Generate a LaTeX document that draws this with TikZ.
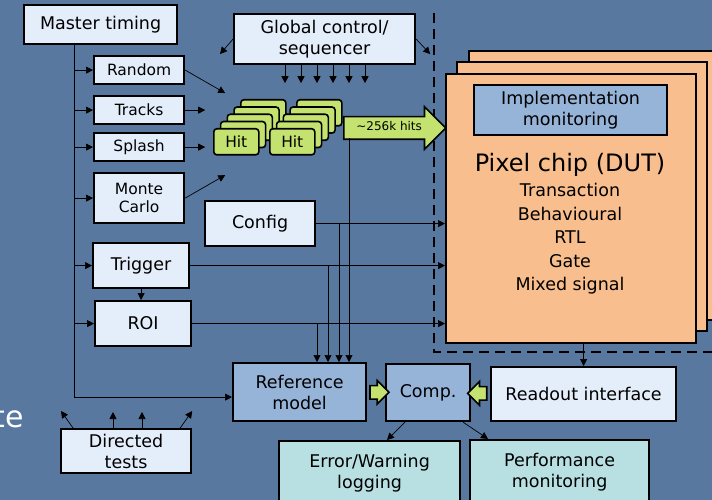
\documentclass[tikz,border=0pt]{standalone}
\usepackage{fontspec}
\setmainfont{DejaVu Sans}
\usepackage{xcolor}
\usetikzlibrary{arrows.meta,positioning,shapes.arrows,calc}

\definecolor{slideblue}{HTML}{5878A0}
\definecolor{paleblue}{HTML}{E4EEFB}
\definecolor{midblue}{HTML}{96B3D8}
\definecolor{paleteal}{HTML}{B8DFE1}
\definecolor{peach}{HTML}{F9BE8D}
\definecolor{hitgreen}{HTML}{C3E26F}

\begin{document}
\begin{tikzpicture}[
  x=1pt,y=-1pt,
  font=\fontsize{17.5}{21}\selectfont,
  box/.style={rectangle,draw,line width=2.2pt,fill=paleblue,align=center,
              anchor=north west,inner sep=1pt},
  sbox/.style={box,font=\fontsize{15.5}{18.5}\selectfont,minimum width=90pt,minimum height=28pt},
  mbox/.style={box,fill=midblue},
  tbox/.style={box,fill=paleteal},
  hitbox/.style={rectangle,draw,line width=1.6pt,rounded corners=3pt,fill=hitgreen,
              minimum width=45pt,minimum height=26pt,anchor=north west,inner sep=0pt,
              font=\fontsize{15.5}{18}\selectfont},
  fat/.style={single arrow,draw,line width=1.6pt,fill=hitgreen,inner xsep=0pt,minimum width=0pt},
  arr/.style={-{Triangle[length=7pt,width=7pt]},line width=0.7pt}
]
\fill[slideblue] (0,0) rectangle (712,500);
\useasboundingbox (0,0) rectangle (712,500);

% slide text behind the diagram
\node[text=white,font=\fontsize{30}{34}\selectfont,anchor=base east,inner sep=0pt] (slidetxt) at (24,427) {te};

% DUT boundary
\draw[line width=2.8pt,dash pattern=on 10pt off 6pt] (434,13) |- (712,352);

% pixel chip stack
\foreach \d in {2,1}
  \draw[line width=2.2pt,fill=peach] (445+12*\d,73-11*\d) rectangle ++(250,269);
\node[box,fill=peach,minimum width=250pt,minimum height=269pt,inner sep=0pt] (chip) at (445,73) {};
\node[mbox,minimum width=193pt,minimum height=50pt] (impl) at (473,84) {Implementation\\monitoring};
\node[font=\fontsize{24}{28}\selectfont] (dut) at (570,165) {Pixel chip (DUT)};
\node[align=center,font=\fontsize{17.5}{23.5}\selectfont] (levels) at (570,239)
  {Transaction\\Behavioural\\RTL\\Gate\\Mixed signal};

% stimulus side
\node[box,minimum width=153pt,minimum height=39pt] (mt) at (23,4) {Master timing};
\node[box,minimum width=181pt,minimum height=50pt] (gc) at (233,13) {Global control/\\sequencer};
\node[sbox] (rnd) at (93,55) {Random};
\node[sbox] (trk) at (93,95) {Tracks};
\node[sbox] (spl) at (93,132) {Splash};
\node[sbox,minimum height=50pt] (mc) at (93,172) {Monte\\Carlo};
\node[box,minimum width=96pt,minimum height=45pt] (trg) at (92,242) {Trigger};
\node[box,minimum width=96pt,minimum height=45pt] (roi) at (94,300) {ROI};
\node[box,minimum width=110pt,minimum height=45pt] (cfg) at (204,200) {Config};
\node[box,minimum width=130pt,minimum height=44pt] (dt) at (60,428) {Directed\\tests};

% hit stacks
\foreach \s/\x in {A/213,B/269}{
  \foreach \i in {4,3,2,1}
    \node[hitbox] at (\x+6.75*\i,128-7.25*\i) {};
  \node[hitbox] (hit\s) at (\x,128) {Hit};
}
\node[fat,font=\fontsize{12}{14}\selectfont,text height=9pt,text depth=3pt,inner ysep=4.5pt,
      single arrow head extend=10pt,minimum height=102pt,anchor=tail] (hits) at (343,128)
      {\textasciitilde256k hits};

% checking side
\node[mbox,minimum width=133pt,minimum height=58pt] (ref) at (232,362) {Reference\\model};
\node[mbox,minimum width=84pt,minimum height=57pt] (comp) at (385,363) {Comp.};
\node[box,minimum width=185pt,minimum height=54pt] (ro) at (490,366) {Readout interface};
\node[tbox,minimum width=181pt,minimum height=64pt] (err) at (278,440) {Error/Warning\\logging};
\node[tbox,minimum width=179pt,minimum height=64pt] (perf) at (469,439) {Performance\\monitoring};

\node[fat,text height=0pt,text depth=0pt,inner ysep=6pt,single arrow head extend=5pt,
      minimum height=19pt] (fa) at ($(ref.east)!0.5!(comp.west)$) {};
\node[fat,text height=0pt,text depth=0pt,inner ysep=6pt,single arrow head extend=5pt,
      minimum height=19pt,shape border rotate=180] (fb) at ($(comp.east)!0.5!(ro.west)$) {};

% master timing distribution
\coordinate (trunk) at ([xshift=51]mt.south west);
\draw[arr] (trunk) |- ([yshift=-5pt]ref.west);
\foreach \n in {rnd,trk,spl,mc,trg,roi}
  \draw[arr] (trunk |- \n.west) -- (\n.west);
\draw[arr] (trg.south) -- (trg.south |- roi.north);

% generators into hits
\draw[arr] (rnd.east) -- ++(40,23);
\draw[arr] (trk.east) -- ++(20,0);
\draw[arr] (spl.east) -- ++(20,0);
\draw[arr] (mc.east) -- ++(40,-23);

% global control
\draw[arr] (gc.west) -- ++(-13,15);
\draw[arr] (gc.east) -- ++(14,15);
\foreach \i in {0,...,5}
  \draw[arr] ([xshift={52+16*\i}]gc.south west) -- ++(0,18);

% directed tests
\draw[arr] ([xshift=13]dt.north west) -- ++(-12,-17);
\draw[arr] ([xshift=53]dt.north west) -- ++(0,-16);
\draw[arr] ([xshift=82]dt.north west) -- ++(0,-16);
\draw[arr] ([xshift=-12]dt.north east) -- ++(12,-17);

% into DUT and reference model
\foreach \n in {cfg,trg,roi}
  \draw[arr] (\n.east) -- (\n.east -| chip.west);
\foreach \n/\x in {roi/317,trg/328,cfg/339}
  \draw[arr] (\n.east -| \x,0) -- (\x,0 |- ref.north);
\draw[arr] ([shift={(6pt,-10.5pt)}]hits.tail) -- ([xshift=6pt]hits.tail |- ref.north);

% outputs
\draw[arr] (ro.north |- chip.south) -- (ro.north);
\draw[arr] ([xshift=20]comp.south west) -- ([xshift=109]err.north west);
\draw[arr] ([xshift=-8]comp.south east) -- ([xshift=19]perf.north west);
\end{tikzpicture}
\end{document}
